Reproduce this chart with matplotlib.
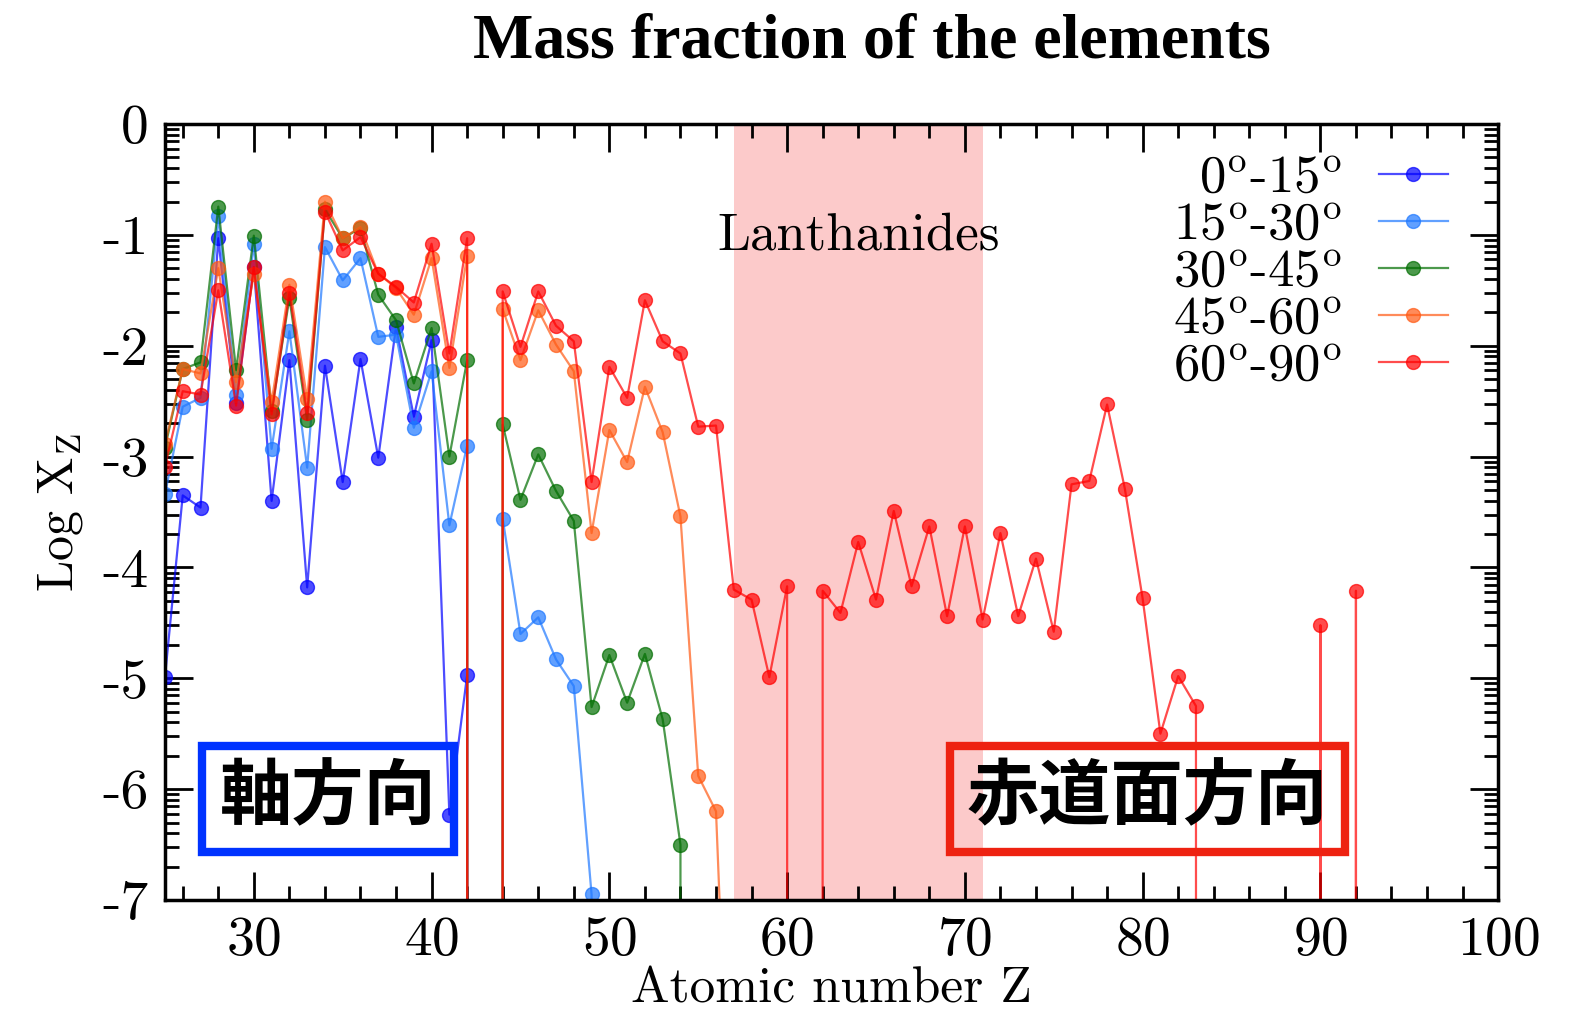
import numpy as np
import matplotlib
matplotlib.use('Agg')
import matplotlib.pyplot as plt
from matplotlib.ticker import LogLocator, MultipleLocator, FuncFormatter, NullFormatter
from matplotlib.patches import Rectangle

plt.rcParams['font.family'] = 'cmr10'
plt.rcParams['mathtext.fontset'] = 'cm'
plt.rcParams['axes.unicode_minus'] = False
plt.rcParams['axes.formatter.use_mathtext'] = True

# log10 of mass fraction, None = zero abundance
labels = [r'0$^{\rm o}$-15$^{\rm o}$', r'15$^{\rm o}$-30$^{\rm o}$', r'30$^{\rm o}$-45$^{\rm o}$',
          r'45$^{\rm o}$-60$^{\rm o}$', r'60$^{\rm o}$-90$^{\rm o}$']
colors = ['#0000ff', '#1e78ff', '#006e00', '#ff5a14', '#ff0000']

z_blue = np.arange(25, 44)
logx_blue = [-4.99, -3.35, -3.46, -1.03, -2.52, -1.29, -3.40, -2.13, -4.18, -2.18,
             -3.23, -2.12, -3.01, -1.83, -2.64, -1.95, -6.23, -4.97, None]

z_lblue = np.arange(25, 51)
logx_lblue = [-3.34, -2.55, -2.47, -0.83, -2.44, -1.08, -2.93, -1.87, -3.10, -1.11,
              -1.41, -1.21, -1.92, -1.90, -2.74, -2.23, -3.62, -2.90, None, -3.56,
              -4.60, -4.45, -4.83, -5.07, -6.95, None]

z_green = np.arange(25, 56)
logx_green = [-2.92, -2.21, -2.15, -0.745, -2.22, -1.007, -2.59, -1.57, -2.67, -0.77,
              -1.03, -0.94, -1.54, -1.77, -2.34, -1.84, -3.00, -2.13, None, -2.71,
              -3.39, -2.98, -3.31, -3.58, -5.26, -4.79, -5.22, -4.78, -5.37, -6.50, None]

z_orange = np.arange(25, 59)
logx_orange = [-2.89, -2.21, -2.25, -1.30, -2.33, -1.35, -2.51, -1.45, -2.48, -0.70,
               -1.03, -0.93, -1.35, -1.48, -1.72, -1.21, -2.20, -1.19, None, -1.67,
               -2.13, -1.68, -1.99, -2.23, -3.69, -2.76, -3.05, -2.37, -2.78, -3.54,
               -5.88, -6.20, -10.2, None]

z_red = np.arange(25, 94)
logx_red = [-3.09, -2.41, -2.44, -1.50, -2.54, -1.29, -2.62, -1.52, -2.61, -0.79,
            -1.14, -1.02, -1.35, -1.47, -1.61, -1.08, -2.07, -1.03, None, -1.51,
            -2.01, -1.51, -1.82, -1.96, -3.23, -2.19, -2.47, -1.59, -1.96, -2.07,
            -2.73, -2.72, -4.20, -4.29, -4.99, -4.17, None, -4.21, -4.41, -3.77,
            -4.29, -3.49, -4.17, -3.63, -4.44, -3.63, -4.47, -3.69, -4.44, -3.92,
            -4.58, -3.25, -3.22, -2.53, -3.29, -4.28, -5.50, -4.98, -5.25, None,
            None, None, None, None, None, -4.52, None, -4.21, None]

series = [(z_blue, logx_blue), (z_lblue, logx_lblue), (z_green, logx_green),
          (z_orange, logx_orange), (z_red, logx_red)]


def to_frac(vals):
    # zero abundance -> 0, gets clipped by the log axis (vertical drop lines)
    return np.array([0.0 if v is None else 10.0 ** v for v in vals])


fig = plt.figure(figsize=(15.77, 10.10), dpi=100)
ax = fig.add_axes([0.1046, 0.1089, 0.8454, 0.7683])

ax.axvspan(57, 71, color='#fccaca', zorder=0, lw=0)
ax.text(64, 10 ** -1.01, 'Lanthanides', fontsize=38, ha='center', va='center')

for (z, v), lab, c in zip(series, labels, colors):
    ax.plot(z, to_frac(v), '-o', color=c, alpha=0.7, lw=1.6, ms=10,
            mec=c, label=lab)

ax.set_yscale('log', nonpositive='clip')
ax.set_ylim(1e-7, 1)
ax.set_xlim(25, 100)
ax.yaxis.set_major_locator(LogLocator(base=10, numticks=12))
ax.yaxis.set_minor_locator(LogLocator(base=10, subs=np.arange(2, 10), numticks=12))
ax.yaxis.set_major_formatter(FuncFormatter(lambda y, p: '%d' % int(round(np.log10(y)))))
ax.yaxis.set_minor_formatter(NullFormatter())
ax.xaxis.set_major_locator(MultipleLocator(10))
ax.xaxis.set_minor_locator(MultipleLocator(2))

ax.tick_params(which='both', direction='in', top=True, right=True, labelsize=40, width=2)
ax.tick_params(which='major', length=20, pad=12)
ax.tick_params(which='minor', length=10)
for s in ax.spines.values():
    s.set_linewidth(2.5)

ax.set_xlabel('Atomic number Z', fontsize=37, labelpad=0)
ax.set_ylabel(r'Log X$_{\rm Z}$', fontsize=36, labelpad=12)

leg = ax.legend(loc='upper right', bbox_to_anchor=(0.978, 0.986), markerfirst=False,
                frameon=False, fontsize=38, handlelength=1.3, labelspacing=0.0,
                borderaxespad=0.0, handletextpad=0.7)

# direction boxes
ax.add_patch(Rectangle((0.028, 0.062), 0.189, 0.137, transform=ax.transAxes,
                       fill=False, ec='#0033ff', lw=6, zorder=5))
ax.text(0.1225, 0.131, '軸方向', transform=ax.transAxes, ha='center', va='center',
        fontsize=52, fontweight='bold', family=['Noto Sans CJK JP'], zorder=6)
ax.add_patch(Rectangle((0.589, 0.062), 0.296, 0.137, transform=ax.transAxes,
                       fill=False, ec='#ee2211', lw=6, zorder=5))
ax.text(0.737, 0.131, '赤道面方向', transform=ax.transAxes, ha='center', va='center',
        fontsize=52, fontweight='bold', family=['Noto Sans CJK JP'], zorder=6)

fig.text(0.553, 1 - 57 / 1010, 'Mass fraction of the elements', ha='center', va='baseline',
         fontsize=46, fontweight='bold', family=['Liberation Serif'])

fig.savefig('out.png', dpi=100)
